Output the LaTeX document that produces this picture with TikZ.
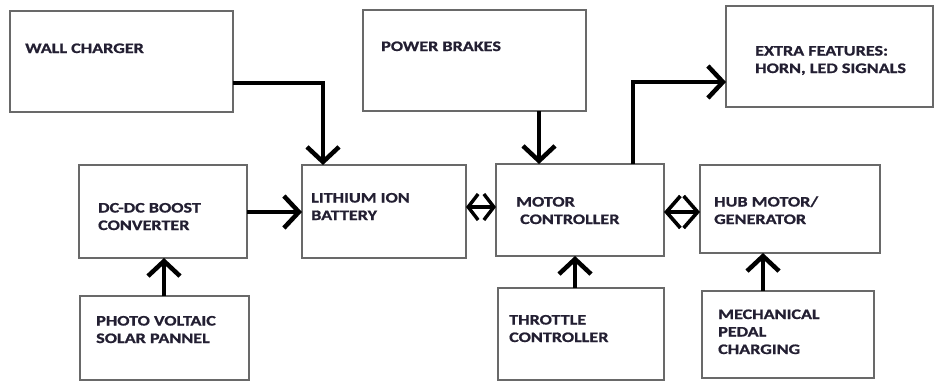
\documentclass[tikz,border=0pt]{standalone}
\usepackage{fontspec}
\setmainfont{Carlito}[FakeStretch=1.25,BoldFeatures={FakeBold=1}]
\usetikzlibrary{arrows.meta}
\definecolor{boxc}{RGB}{105,105,105}
\definecolor{txtc}{RGB}{35,31,50}
\tikzset{
  box/.style={draw=boxc, line width=1.3pt, anchor=north west, inner sep=0pt, outer sep=0pt},
  lbl/.style={anchor=base west, align=left, inner sep=0pt, text=txtc,
    font=\bfseries\fontsize{14.5}{17.5}\selectfont},
  conn/.style={line width=4.5pt, -{Straight Barb[length=15pt,width=32pt]}},
  sconn/.style={line width=3.4pt, {Straight Barb[length=10pt,width=26pt]}-{Straight Barb[length=10pt,width=26pt]}},
  bconn/.style={line width=3.6pt, {Straight Barb[length=14pt,width=32pt]}-{Straight Barb[length=14pt,width=32pt]}},
}
\begin{document}
\begin{tikzpicture}[x=1pt,y=-1pt]
\useasboundingbox (0,0) rectangle (936,381);
% boxes
\node[box, minimum width=223pt, minimum height=101pt] (wc)  at (10,11)  {};
\node[box, minimum width=223pt, minimum height=101pt] (pb)  at (363,10) {};
\node[box, minimum width=207pt, minimum height=101pt] (ef)  at (726,6)  {};
\node[box, minimum width=168pt, minimum height=93pt]  (dc)  at (79,165) {};
\node[box, minimum width=164pt, minimum height=93pt]  (bat) at (302,165) {};
\node[box, minimum width=168pt, minimum height=92pt]  (mc)  at (496,164) {};
\node[box, minimum width=180pt, minimum height=88pt]  (hub) at (700,165) {};
\node[box, minimum width=169pt, minimum height=84pt]  (pv)  at (80,296) {};
\node[box, minimum width=166pt, minimum height=92pt]  (th)  at (498,288) {};
\node[box, minimum width=172pt, minimum height=87pt]  (mp)  at (702,291) {};
% labels (anchored at the baseline of the last line)
\node[lbl] (twc) at (25,53)   {WALL CHARGER};
\node[lbl] (tpb) at (381,51)  {POWER BRAKES};
\node[lbl] (tef) at (755,73)  {EXTRA FEATURES:\\HORN, LED SIGNALS};
\node[lbl] (tdc) at (98,230)  {DC-DC BOOST\\CONVERTER};
\node[lbl] (tbat) at (311,220) {LITHIUM ION\\BATTERY};
\node[lbl] (tmc) at (516,224) {MOTOR\\\hspace*{4pt}CONTROLLER};
\node[lbl] (thub) at (714,224) {HUB MOTOR/\\GENERATOR};
\node[lbl] (tpv) at (96,343)  {PHOTO VOLTAIC\\SOLAR PANNEL};
\node[lbl] (tth) at (509,342) {THROTTLE\\CONTROLLER};
\node[lbl] (tmp) at (718,354) {MECHANICAL\\PEDAL\\CHARGING};
% connectors
\draw[conn] (wc.east |- 0,83) -| (323,0 |- bat.north);
\draw[conn] (539,0 |- pb.south) -- (539,0 |- mc.north);
\draw[conn] (633,0 |- mc.north) |- (ef.west |- 0,82);
\draw[conn] (dc.east |- 0,212) -- (bat.west |- 0,212);
\draw[conn] (164,0 |- pv.north) -- (164,0 |- dc.south);
\draw[conn] (575,0 |- th.north) -- (575,0 |- mc.south);
\draw[conn] (763,0 |- mp.north) -- (763,0 |- hub.south);
\draw[sconn] (bat.east |- 0,207) -- (mc.west |- 0,207);
\draw[bconn] (mc.east |- 0,212) -- (hub.west |- 0,212);
\end{tikzpicture}
\end{document}
